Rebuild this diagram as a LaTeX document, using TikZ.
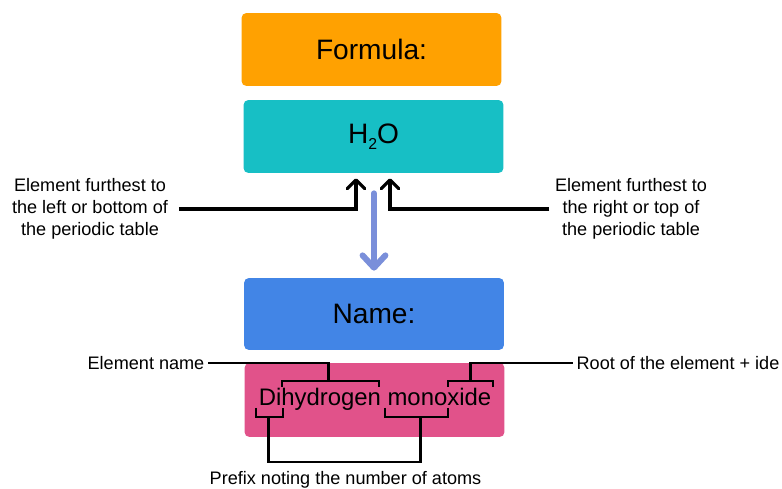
\documentclass[tikz,border=0pt]{standalone}
\usepackage{fontspec}
\setmainfont{Liberation Sans}
\usetikzlibrary{arrows.meta, positioning, calc}

\definecolor{formulaorange}{HTML}{FFA101}
\definecolor{formulateal}{HTML}{17BFC5}
\definecolor{nameblue}{HTML}{4285E6}
\definecolor{namepink}{HTML}{E1528A}
\definecolor{flowblue}{HTML}{7A8FDA}

\begin{document}
\begin{tikzpicture}[
    x=0.02cm, y=-0.02cm,
    box/.style={rectangle, rounded corners=2.8pt, minimum width=5.2cm, minimum height=1.46cm, text centered, font=\fontsize{16}{19}\selectfont},
    note/.style={align=center, font=\fontsize{10.3}{12.5}\selectfont, inner sep=2pt},
    ptr/.style={-{Straight Barb[length=5pt, width=10pt, round]}, line width=1.8pt},
    brk/.style={line width=1.7pt},
    flow/.style={-{Straight Barb[length=7pt, width=13pt, round]}, line width=3.4pt, flowblue, line cap=round}
]
\useasboundingbox (0,0) rectangle (782,489);

\node[box, fill=formulaorange] (formula) at (371.5,49.5) {Formula:};
\node[box, fill=formulateal] (h2o) at (373.5,136.5) {H\raisebox{-0.4ex}{\fontsize{9}{9}\selectfont 2}O};
\node[box, fill=nameblue, minimum height=1.44cm] (name) at (374,314) {Name:};
\node[box, fill=namepink, minimum height=1.48cm] (namebox) at (374.5,400) {};
\node[font=\fontsize{13.6}{16}\selectfont, inner sep=0pt] (dihyd) at (375,399) {Dihydrogen monoxide};

\node[note] (leftel) at (90,209) {Element furthest to\\the left or bottom of\\the periodic table};
\node[note] (rightel) at (631,209) {Element furthest to\\the right or top of\\the periodic table};
\node[note] (elname) at (146,363) {Element name};
\node[note] (rootel) at (678,363) {Root of the element + ide};
\node[note] (prefix) at (345.5,480) {Prefix noting the number of atoms};

% arrows to the formula
\draw[ptr, shorten <=4pt] (leftel.east) -| ($(h2o.south)+(-17.5,5)$);
\draw[ptr, shorten <=1pt] (rightel.west) -| ($(h2o.south)+(16.5,5)$);
\draw[flow] ($(h2o.south)+(0.5,20)$) -- ($(name.north)+(0,-7)$);

% brackets above the name
\coordinate (hydl) at (282,387);
\coordinate (hydr) at (379,387);
\coordinate (oxl) at (448,387);
\coordinate (oxr) at (493,387);
\draw[brk] (hydl) -- ++(0,-6) -| (hydr);
\draw[brk] (oxl) -- ++(0,-6) -| (oxr);
\draw[brk] (elname.east) -| ($(hydl)!0.475!(hydr)+(0,-6)$);
\draw[brk] (rootel.west) -| ($(oxl)!0.5!(oxr)+(0,-6)$);

% brackets below the name
\coordinate (dil) at (256,408);
\coordinate (dir) at (283,408);
\coordinate (monol) at (385,408);
\coordinate (monor) at (448,408);
\draw[brk] (dil) -- ++(0,9) -| (dir);
\draw[brk] (monol) -- ++(0,9) -| (monor);
\draw[brk] ($(dil)!0.48!(dir)+(0,9)$) -- ++(0,45) -| ($(monol)!0.57!(monor)+(0,9)$);

\end{tikzpicture}
\end{document}
